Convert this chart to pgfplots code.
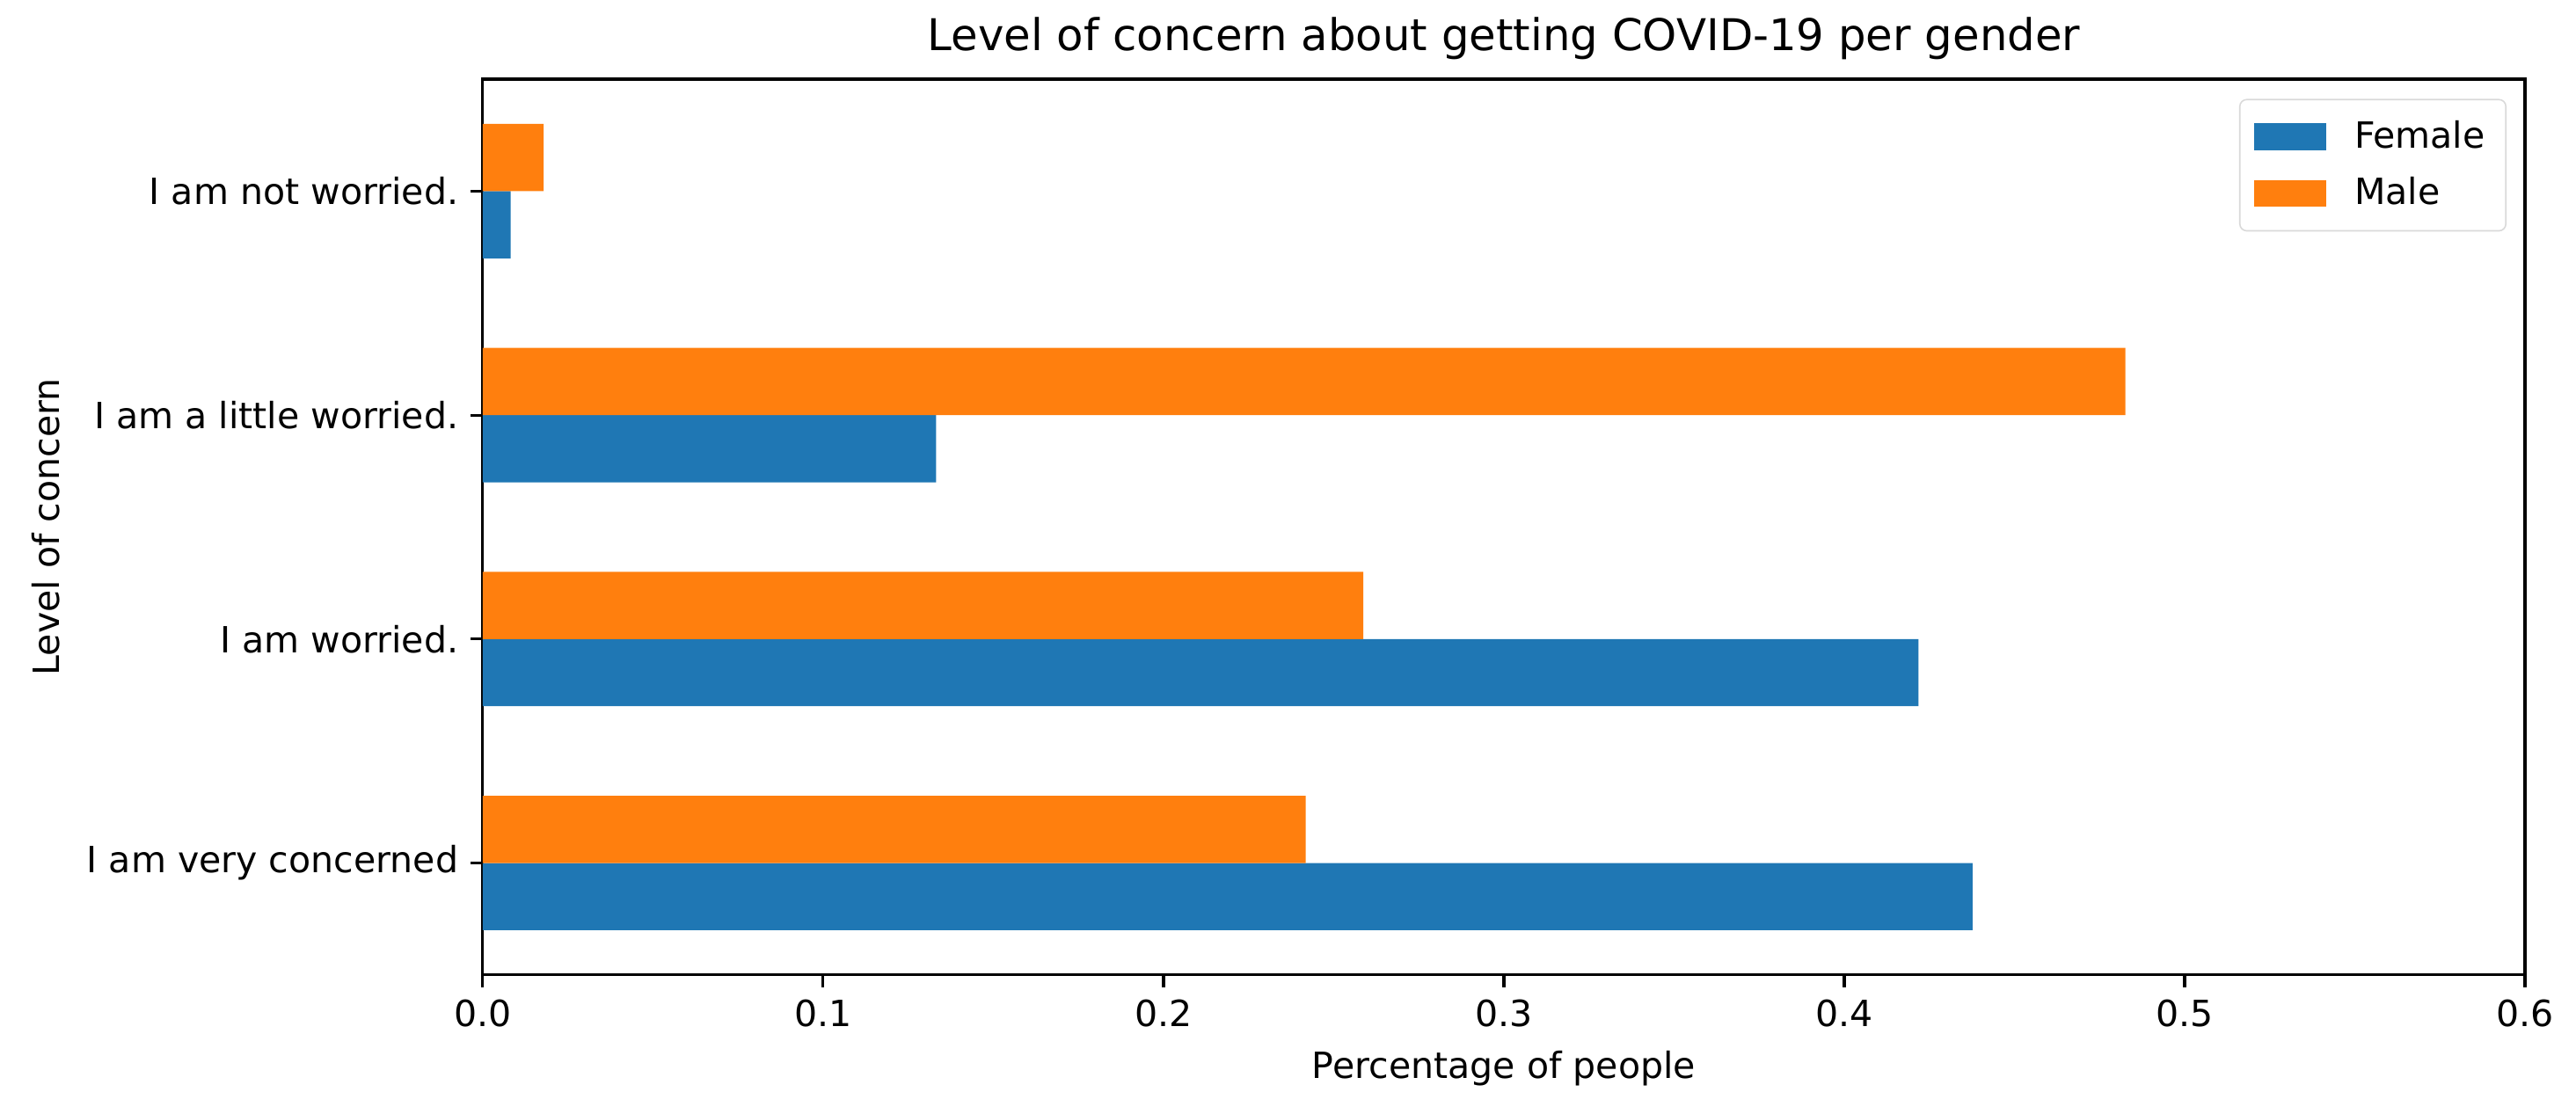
\documentclass[border=0pt]{standalone}
\usepackage{fontspec}
\setmainfont{DejaVu Sans}
\usepackage{pgfplots}
\pgfplotsset{compat=1.18}

\definecolor{tabblue}{HTML}{1F77B4}
\definecolor{taborange}{HTML}{FF7F0E}

\begin{document}
\begin{tikzpicture}
\begin{axis}[
    scale only axis,
    width=588pt, height=258pt,
    xmin=0, xmax=0.6,
    ymin=-0.5, ymax=3.5,
    xtick={0,0.1,0.2,0.3,0.4,0.5,0.6},
    xticklabel style={/pgf/number format/fixed, /pgf/number format/fixed zerofill, /pgf/number format/precision=1},
    ytick={0,1,2,3},
    yticklabels={I am very concerned, I am worried., I am a little worried., I am not worried.},
    /pgf/number format/assume math mode=true,
    tick align=outside,
    xtick pos=left, ytick pos=left,
    major tick length=3.5pt,
    tick style={black, line width=0.8pt},
    axis line style={line width=0.8pt},
    ticklabel style={font=\fontsize{10.4}{12}\selectfont},
    title={Level of concern about getting COVID-19 per gender},
    title style={font=\fontsize{12.6}{14}\selectfont, yshift=-4pt},
    xlabel={Percentage of people},
    ylabel={Level of concern},
    label style={font=\fontsize{10.4}{12}\selectfont},
    ylabel style={yshift=1pt},
    legend style={at={(0.991,0.978)}, anchor=north east, draw=black!15, rounded corners=2pt,
        font=\fontsize{10.4}{12}\selectfont, row sep=3pt, inner xsep=4pt, inner ysep=4pt},
    legend cell align=left,
    legend image code/.code={\fill[#1, sharp corners] (0pt,-3.8pt) rectangle (21pt,3.8pt);
        \path (27pt,0pt);},
]
\addplot[fill=tabblue, draw=none, xbar, bar width=0.3, bar shift=-0.15]
    coordinates {(0.4377,0) (0.4218,1) (0.1332,2) (0.0082,3)};
\addlegendentry{Female}
\addplot[fill=taborange, draw=none, xbar, bar width=0.3, bar shift=0.15]
    coordinates {(0.2418,0) (0.2587,1) (0.4826,2) (0.0179,3)};
\addlegendentry{Male}
\end{axis}
\path (current axis.south west) ++(-139pt,-39.8pt) coordinate (bbsw);
\path (current axis.north east) ++(14.7pt,22.8pt) coordinate (bbne);
\useasboundingbox (bbsw) rectangle (bbne);
\end{tikzpicture}
\end{document}
